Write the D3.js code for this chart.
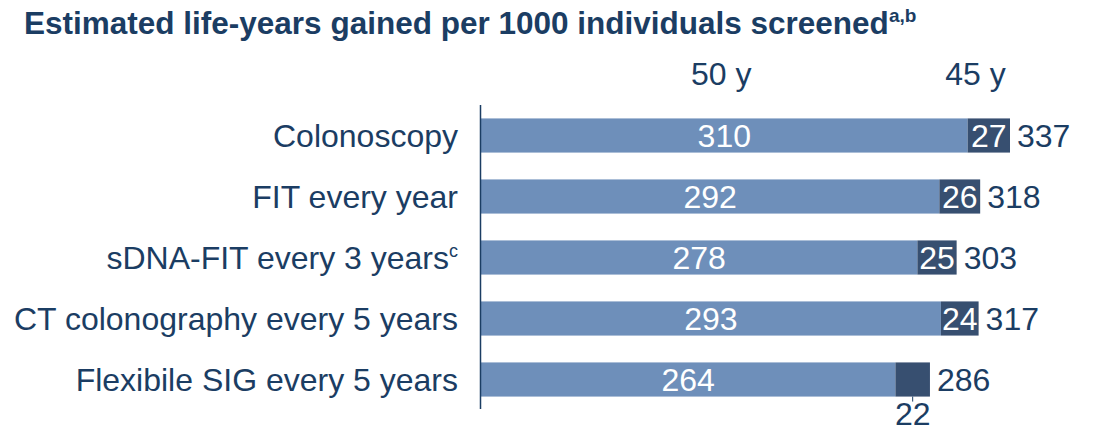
<!DOCTYPE html>
<html>
<head>
<meta charset="utf-8">
<script src="https://cdn.jsdelivr.net/npm/d3@7"></script>
<style>
  body { margin: 0; background: #fff; }
  svg { font-family: "Liberation Sans", Arial, sans-serif; }
</style>
</head>
<body>
<svg id="chart" width="1094" height="429"></svg>
<script>
// Values
var strategies = [
  'Colonoscopy',
  'FIT every year',
  'sDNA-FIT every 3 years',
  'CT colonography every 5 years',
  'Flexibile SIG every 5 years'
];
var gain50 = [310, 292, 278, 293, 264];
var extra45 = [27, 26, 25, 24, 22];
var seriesNames = ['50 y', '45 y'];

var textColor = '#1b3d63';
var lightBlue = '#6e8fba';
var darkBlue = '#374f70';
var fs = 32;

var svg = d3.select('#chart');

var x = d3.scaleLinear().domain([0, 337]).range([481, 1010]);
var y = d3.scaleBand().domain(strategies).range([105, 410]).paddingInner(0.44).paddingOuter(0.22);

// title
var title = svg.append('text')
  .attr('x', 24).attr('y', 34)
  .attr('fill', textColor)
  .attr('font-size', 31.5)
  .attr('font-weight', 'bold')
  .text('Estimated life-years gained per 1000 individuals screened');
title.append('tspan').attr('dy', -12).attr('font-size', 19).text('a,b');

// series headers
svg.append('text').attr('x', x(153)).attr('y', 85)
  .attr('text-anchor', 'middle').attr('fill', textColor).attr('font-size', fs)
  .text(seriesNames[0]);
svg.append('text').attr('x', x(315)).attr('y', 85)
  .attr('text-anchor', 'middle').attr('fill', textColor).attr('font-size', fs)
  .text(seriesNames[1]);

var rows = strategies.map(function(d, i) {
  return { name: d, a: gain50[i], b: extra45[i], total: gain50[i] + extra45[i], i: i };
});

var g = svg.selectAll('g.row').data(rows).enter().append('g').attr('class', 'row');

g.append('rect')
  .attr('x', x(0))
  .attr('y', d => y(d.name))
  .attr('width', d => x(d.a) - x(0))
  .attr('height', y.bandwidth())
  .attr('fill', lightBlue);

g.append('rect')
  .attr('x', d => x(d.a))
  .attr('y', d => y(d.name))
  .attr('width', d => x(d.total) - x(d.a))
  .attr('height', y.bandwidth())
  .attr('fill', darkBlue);

function baseY(d) {
  return y(d.name) + y.bandwidth() / 2 + 11;
}

// category labels
g.append('text')
  .attr('x', 458)
  .attr('y', baseY)
  .attr('text-anchor', 'end')
  .attr('fill', textColor)
  .attr('font-size', fs)
  .each(function(d) {
    var t = d3.select(this);
    t.text(d.name);
    if (d.name === 'sDNA-FIT every 3 years') {
      t.append('tspan').attr('dy', -12).attr('font-size', 18).text('c');
    }
  });

// value labels inside light bars
g.append('text')
  .attr('x', d => x(d.a / 2))
  .attr('y', baseY)
  .attr('text-anchor', 'middle')
  .attr('fill', '#fff')
  .attr('font-size', fs)
  .text(d => d.a);

// extra labels inside dark segments (last one goes below)
g.filter(d => d.i < 4).append('text')
  .attr('x', d => (x(d.a) + x(d.total)) / 2)
  .attr('y', baseY)
  .attr('text-anchor', 'middle')
  .attr('fill', '#fff')
  .attr('font-size', fs)
  .text(d => d.b);

var last = rows[4];
var cx = (x(last.a) + x(last.total)) / 2;
svg.append('line')
  .attr('x1', cx).attr('x2', cx)
  .attr('y1', y(last.name) + y.bandwidth()).attr('y2', y(last.name) + y.bandwidth() + 5)
  .attr('stroke', textColor).attr('stroke-width', 1);
svg.append('text')
  .attr('x', cx).attr('y', 425)
  .attr('text-anchor', 'middle').attr('fill', textColor).attr('font-size', fs)
  .text(last.b);

// totals
g.append('text')
  .attr('x', d => x(d.total) + 7)
  .attr('y', baseY)
  .attr('fill', textColor)
  .attr('font-size', fs)
  .text(d => d.total);

// axis line
svg.append('line')
  .attr('x1', 480.5).attr('x2', 480.5)
  .attr('y1', 105).attr('y2', 409)
  .attr('stroke', textColor).attr('stroke-width', 1.5);
</script>
</body>
</html>
